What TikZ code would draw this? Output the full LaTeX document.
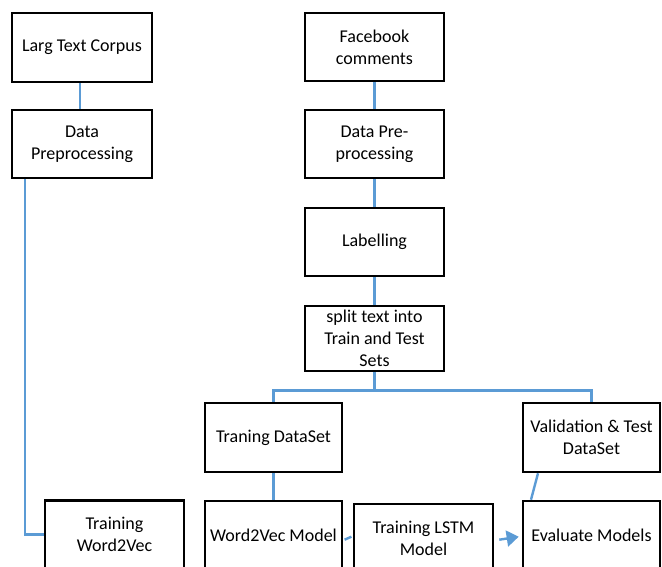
\documentclass[tikz,border=0pt]{standalone}
\usepackage{fontspec}
\setmainfont{Carlito}
\usetikzlibrary{arrows.meta,calc}
\definecolor{lineblue}{HTML}{5B9BD5}
\tikzset{
  box/.style={draw=black, line width=2.6pt, fill=white, inner sep=0pt, align=center,
    font=\fontsize{18}{22}\selectfont, minimum width=139pt, minimum height=68pt},
  link/.style={draw=lineblue, line width=2.4pt},
}
\begin{document}
\begin{tikzpicture}[x=1pt,y=-1pt]
\useasboundingbox (0,0) rectangle (662,567);
\clip (0,0) rectangle (662,567);
\fill[white] (0,0) rectangle (662,567);
% left column
\node[box, minimum width=140pt, minimum height=69pt] (ltc) at (82,47.5) {Larg Text Corpus};
\node[box, minimum width=140pt] (ldp) at (82,144) {Data\\Preprocessing};
\node[box] (tw2v) at (114.5,534.5) {Training\\Word2Vec};
% right column
\node[box] (fb) at (374.5,47) {Facebook\\comments};
\node[box] (dpp) at (374.5,144) {Data Pre-\\processing};
\node[box] (lab) at (374.5,242) {Labelling};
\node[box, minimum height=65pt] (split) at (374.5,338.5) {split text into\\Train and Test\\Sets};
\node[box, minimum width=137pt, minimum height=69pt] (tds) at (273.5,437.5) {Traning DataSet};
\node[box, minimum width=137pt, minimum height=69pt] (vtd) at (591.5,437.5) {Validation \& Test\\DataSet};
\node[box, minimum width=137pt, minimum height=69pt] (w2v) at (273.5,535.5) {Word2Vec Model};
\node[box, minimum height=69pt] (lstm) at (423.5,538.5) {Training LSTM\\Model};
\node[box, minimum width=137pt, minimum height=69pt] (eval) at (591.5,535.5) {Evaluate Models};
% connectors
\draw[link] ([xshift=-2pt]ltc.south) -- ([xshift=-2pt]ldp.north);
\draw[link] ([xshift=14pt]ldp.south west) |- (tw2v.west);
\draw[link] (fb.south) -- (dpp.north);
\draw[link] (dpp.south) -- (lab.north);
\draw[link] (lab.south) -- (split.north);
\draw[link] (split.south) -- ++(0,18) coordinate (j);
\draw[link] (tds.north) |- (j) -| (vtd.north);
\draw[link] (tds.south) -- (w2v.north);
\draw[link] ([xshift=-53.5pt]vtd.south) -- ([xshift=-60.5pt]eval.north);
\draw[link] ($(w2v.north east)+(1.3,40)$) -- ($(lstm.north west)+(-1.3,34)$);
\draw[link, -{Triangle[length=12pt,width=16pt]}] ($(lstm.north east)+(5,37)$) -- ($(eval.north west)+(-3,37)$);
\end{tikzpicture}
\end{document}
